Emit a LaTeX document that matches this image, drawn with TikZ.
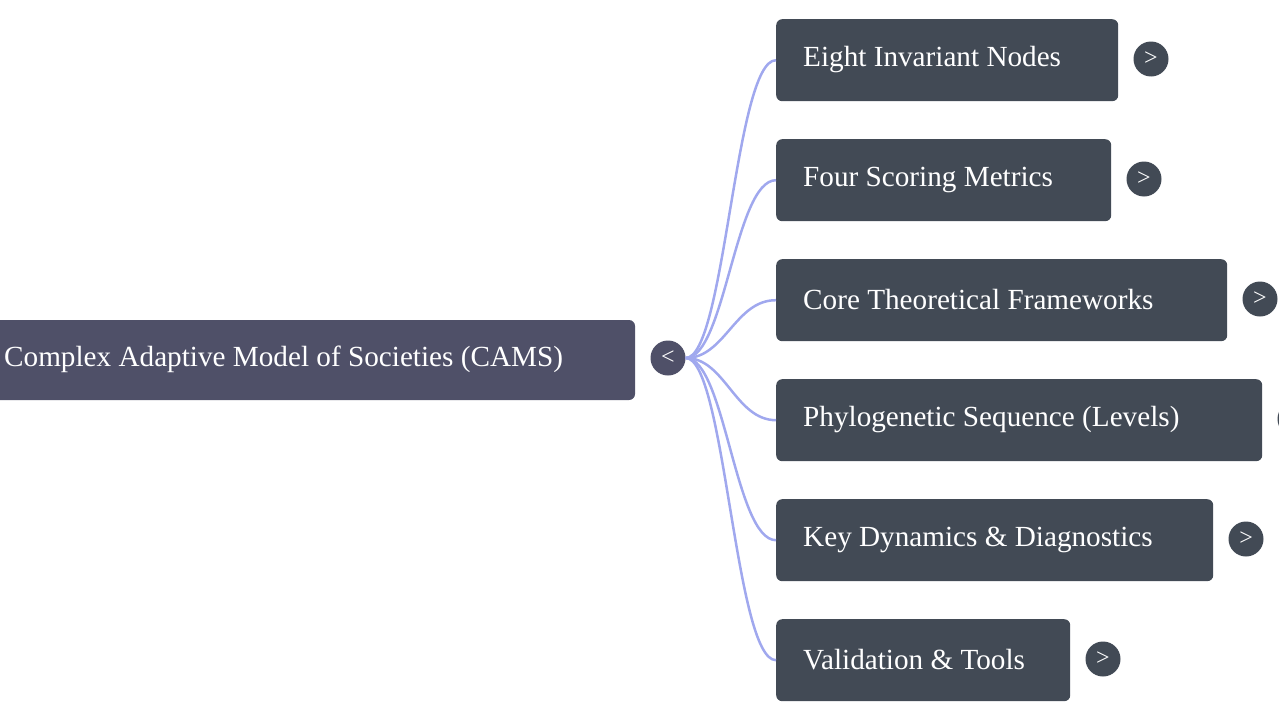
\documentclass[tikz,border=0pt]{standalone}
\usepackage{fontspec}
\setmainfont{Liberation Serif}
\begin{document}
\begin{tikzpicture}[x=1pt,y=-1pt,
  box/.style={fill=#1,rounded corners=6pt,anchor=north west,inner sep=0pt},
  lab/.style={text=white,font=\fontsize{29.2}{32}\selectfont,anchor=west,inner sep=0pt},
  tog/.style={circle,fill=#1,minimum size=35pt,inner sep=0pt,text=white,font=\fontsize{24}{24}\selectfont},
  link/.style={draw=lnk,line width=2.5pt}]
\definecolor{rootc}{HTML}{4F5068}
\definecolor{kid}{HTML}{424A55}
\definecolor{lnk}{HTML}{A0A8EE}
\useasboundingbox (0,0) rectangle (1279,720);
\fill[rootc,rounded corners=6pt] (-20,320) rectangle (635,400);
\node[lab] (root) at (4,359) {Complex Adaptive Model of Societies (CAMS)};
\node[tog=rootc] (t0) at (668,358) {<};
\foreach \n/\w/\cy/\txt in {a/342/60/Eight Invariant Nodes,b/335/180/Four Scoring Metrics,c/451/300/Core Theoretical Frameworks,d/486/420/Phylogenetic Sequence (Levels),e/437/540/Key Dynamics \& Diagnostics,f/294/660/Validation \& Tools}{
  \node[box=kid,minimum width=\w pt,minimum height=82pt] (\n) at (776,\cy-41) {};
  \node[lab] (l\n) at (803,\cy) {\txt};
  \node[tog=kid] (t\n) at (776+\w+33,\cy-1) {>};
  \draw[link] (t0.east) .. controls (725,358) and (735,\cy) .. (\n.west);
}
\end{tikzpicture}
\end{document}
